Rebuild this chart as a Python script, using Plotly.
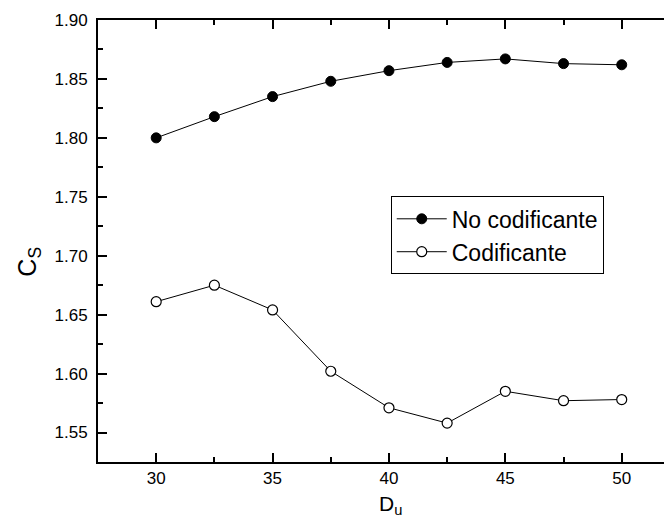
import plotly.graph_objects as go

du = [30, 32.5, 35, 37.5, 40, 42.5, 45, 47.5, 50]
no_codificante = [1.800, 1.818, 1.835, 1.848, 1.857, 1.864, 1.867, 1.863, 1.862]
codificante = [1.661, 1.675, 1.654, 1.602, 1.571, 1.558, 1.585, 1.577, 1.578]

font_family = "Liberation Sans, Arial, sans-serif"

fig = go.Figure()
fig.add_trace(go.Scatter(
    x=du, y=no_codificante, mode="lines+markers", name="No codificante",
    line=dict(color="black", width=1),
    marker=dict(symbol="circle", size=10, color="black", line=dict(color="black", width=1)),
))
fig.add_trace(go.Scatter(
    x=du, y=codificante, mode="lines+markers", name="Codificante",
    line=dict(color="black", width=1),
    marker=dict(symbol="circle", size=10, color="white", line=dict(color="black", width=1.2)),
))

axis_common = dict(
    showgrid=False, zeroline=False, showline=True, linecolor="black", linewidth=2,
    ticks="inside", ticklen=9, tickwidth=2, tickcolor="black", automargin=False,
    tickfont=dict(size=17, color="black", family=font_family),
)

# page body has an 8px margin; figure sized so the page does not overflow the window
fig.update_layout(
    width=664, height=512,
    margin=dict(l=89.7, r=0, t=11.5, b=58.3, autoexpand=False),
    paper_bgcolor="white", plot_bgcolor="white",
    font=dict(family=font_family, color="black"),
    showlegend=True,
    legend=dict(
        x=0.510, y=0.601, xanchor="left", yanchor="top",
        bgcolor="white", bordercolor="black", borderwidth=1,
        font=dict(size=23, color="black", family=font_family),
        tracegroupgap=0, itemwidth=50,
    ),
    xaxis=dict(
        range=[27.5, 52.16], tick0=30, dtick=5, mirror="ticks",
        minor=dict(ticks="inside", ticklen=5, tickwidth=2, tickcolor="black", dtick=2.5),
        **axis_common,
    ),
    yaxis=dict(
        range=[1.525, 1.90], tick0=1.55, dtick=0.05, tickformat=".2f",
        mirror=False, ticklabelstandoff=5,
        minor=dict(ticks="inside", ticklen=5, tickwidth=2, tickcolor="black", dtick=0.025),
        **axis_common,
    ),
    annotations=[
        dict(text="C<sub>S</sub>", xref="paper", yref="paper", x=-0.1196, y=0.454,
             xanchor="center", yanchor="middle", textangle=-90, showarrow=False,
             font=dict(size=25, color="black", family=font_family)),
        dict(text="D<sub>u</sub>", xref="paper", yref="paper", x=0.509, y=-0.097,
             xanchor="center", yanchor="middle", showarrow=False,
             font=dict(size=21, color="black", family=font_family)),
    ],
)

fig.write_html("out.html")
